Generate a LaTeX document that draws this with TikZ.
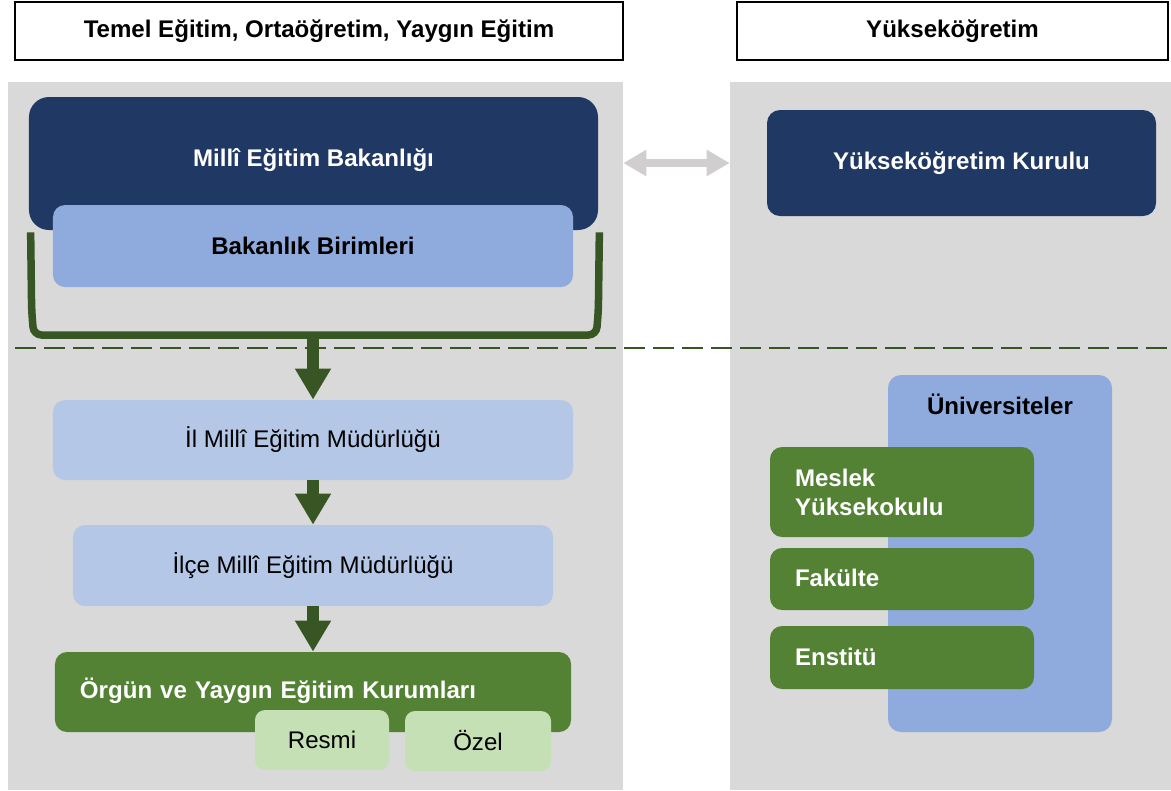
\documentclass[tikz,border=0pt]{standalone}
\usepackage{fontspec}
\setmainfont{Liberation Sans}
\usetikzlibrary{arrows.meta,calc}
\definecolor{navy}{HTML}{203864}
\definecolor{midblue}{HTML}{8FAADC}
\definecolor{paleblue}{HTML}{B4C7E7}
\definecolor{leaf}{HTML}{548235}
\definecolor{paleleaf}{HTML}{C5E0B4}
\definecolor{darkleaf}{HTML}{375623}
\definecolor{panelgray}{HTML}{D9D9D9}
\definecolor{linkgray}{HTML}{D0CECE}
\newcommand{\sz}{\fontsize{13.7}{16.4}\selectfont}

\begin{document}
\begin{tikzpicture}[x=0.2mm,y=-0.2mm,
    head/.style = {draw=black, line width=0.4mm, fill=white, minimum height=11.6mm, font=\sz\bfseries},
    panel/.style = {fill=panelgray, minimum height=141.6mm},
    top/.style = {fill=navy, text=white, font=\sz\bfseries, rounded corners=4mm},
    main/.style = {rounded corners=2.4mm, minimum height=16mm, font=\sz},
    unit/.style = {fill=leaf, text=white, font=\sz\bfseries, rounded corners=2.4mm,
        minimum width=52.8mm, inner xsep=5mm, text width=42.8mm, align=left},
    kind/.style = {fill=paleleaf, rounded corners=2mm, minimum height=12mm, font=\sz},
    flow/.style = {darkleaf, line width=2.4mm, -{Triangle[width=6.8mm,length=6.2mm]}}]
    \useasboundingbox (0,0) rectangle (1171,790);
    % two columns
    \node[panel, minimum width=123mm] (lp) at (315.5,436) {};
    \node[panel, minimum width=88.2mm] (rp) at (950.5,436) {};
    \node[head, minimum width=121.6mm] (h1) at (319,31) {Temel Eğitim, Ortaöğretim, Yaygın Eğitim};
    \node[head, minimum width=86.2mm] (h2) at (952.5,31) {Yükseköğretim};

    % ministry side
    \node[top, minimum width=113.8mm, minimum height=26.6mm] (meb) at (313.5,163.5) {\raisebox{2.2mm}{Millî Eğitim Bakanlığı}};
    \node[main, fill=midblue, minimum width=104mm, minimum height=16.4mm, font=\sz\bfseries] (birim) at (313,246) {Bakanlık Birimleri};
    \coordinate (brk) at (313,335);
    \draw[darkleaf, line width=1.5mm, rounded corners=1.6mm]
        ($(meb.south west)+(2,2)$) -- ($(meb.south west)+(3,80)$) -- ($(meb.south west |- brk)+(5,0)$)
        -- ($(meb.south east |- brk)+(-2,0)$) -- ($(meb.south east)+(0,80)$) -- ($(meb.south east)+(1,2)$);
    \draw[darkleaf, line width=0.5mm, dash pattern=on 4.2mm off 1.6mm] (15,348) -- (rp.east |- 0,348);

    \node[main, fill=paleblue, minimum width=104mm] (il) at (313,440) {İl Millî Eğitim Müdürlüğü};
    \node[main, fill=paleblue, minimum width=96mm, minimum height=16.2mm] (ilce) at (313,565.5) {İlçe Millî Eğitim Müdürlüğü};
    \node[main, fill=leaf, text=white, font=\sz\bfseries, minimum width=103.2mm,
        inner xsep=5mm, text width=93.2mm, align=left] (orgun) at (313,692) {\raisebox{1.6mm}{Örgün ve Yaygın Eğitim Kurumları}};
    \node[kind, minimum width=26.8mm] (resmi) at (322,740) {Resmi};
    \node[kind, minimum width=29.2mm] (ozel) at (478,741) {Özel};

    \path[flow]
        (brk) edge (il.north)
        (il.south) edge (ilce.north)
        (ilce.south) edge (orgun.north);

    % higher education side
    \node[top, rounded corners=2.6mm, minimum width=77.8mm, minimum height=21.2mm] (yok) at (961.5,163) {Yükseköğretim Kurulu};
    \draw[linkgray, line width=1.6mm, {Triangle[width=5mm,length=4.6mm]}-{Triangle[width=5mm,length=4.6mm]}]
        (lp.east |- yok.west) -- (rp.west |- yok.west);

    \node[fill=midblue, rounded corners=2.6mm, minimum width=44.8mm, minimum height=71.4mm] (uni) at (1000,553.5) {};
    \node[font=\sz\bfseries] (unit) at ($(uni.north)+(0,30)$) {Üniversiteler};
    \node[unit, minimum height=18mm] (myo) at (902,492) {Meslek\\Yüksekokulu};
    \node[unit, minimum height=12.4mm] (fak) at (902,579) {\raisebox{0.4mm}{Fakülte}};
    \node[unit, minimum height=12.6mm] (ens) at (902,657.5) {\raisebox{0.4mm}{Enstitü}};
\end{tikzpicture}
\end{document}
